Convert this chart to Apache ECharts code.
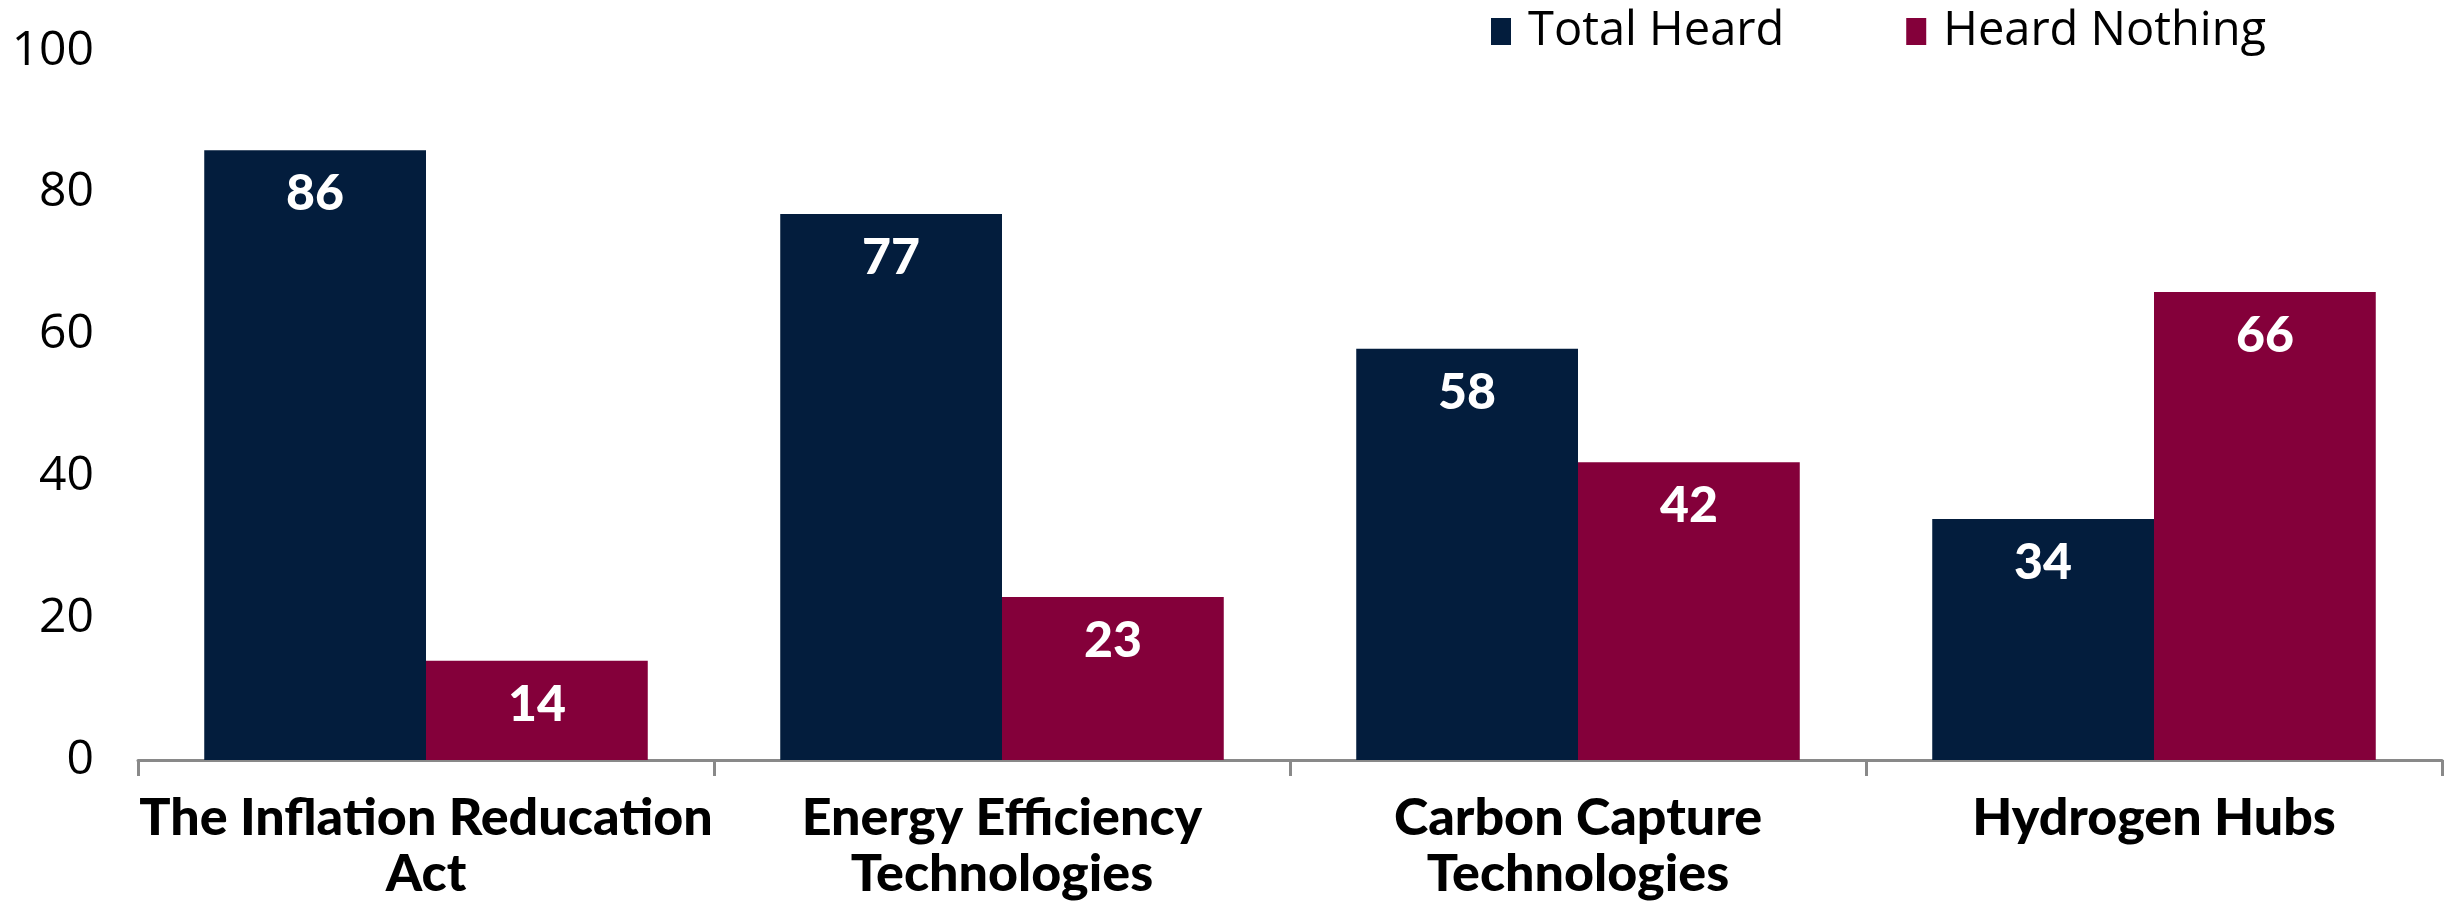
<!DOCTYPE html>
<html>
<head>
<meta charset="utf-8">
<script src="https://cdn.jsdelivr.net/npm/echarts@6/dist/echarts.min.js"></script>
<style>
html,body{margin:0;padding:0;background:#fff;}
#c{width:2458px;height:902px;}
</style>
</head>
<body>
<div id="c"></div>
<script>
const categories = ['The Inflation Reducation\nAct', 'Energy Efficiency\nTechnologies', 'Carbon Capture\nTechnologies', 'Hydrogen Hubs'];
const totalHeard = [86, 77, 58, 34];
const heardNothing = [14, 23, 42, 66];
const seriesNames = ['Total Heard', 'Heard Nothing'];

const chart = echarts.init(document.getElementById('c'), null, {renderer: 'canvas'});
const labelStyle = {
  show: true,
  position: 'insideTop',
  distance: 19,
  color: '#ffffff',
  fontFamily: 'Lato',
  fontWeight: 900,
  fontSize: 50
};
chart.setOption({
  animation: false,
  backgroundColor: '#ffffff',
  legend: {
    left: 1486,
    top: 3,
    itemWidth: 20,
    itemHeight: 27,
    itemGap: 122,
    icon: 'rect',
    textStyle: {fontFamily: 'Open Sans', fontSize: 47, color: '#000', padding: [0, 0, 0, 12]},
    data: seriesNames
  },
  grid: {left: 138, right: 16, top: 51, bottom: 142, containLabel: false},
  xAxis: {
    type: 'category',
    data: categories,
    axisLine: {show: true, lineStyle: {color: '#898989', width: 3}},
    axisTick: {show: true, length: 16, lineStyle: {color: '#898989', width: 3}},
    axisLabel: {
      interval: 0,
      margin: 30,
      color: '#000',
      fontFamily: 'Lato',
      fontWeight: 900,
      fontSize: 52,
      lineHeight: 56
    }
  },
  yAxis: {
    type: 'value',
    min: 0,
    max: 100,
    interval: 20,
    axisLine: {show: false},
    axisTick: {show: false},
    splitLine: {show: false},
    axisLabel: {margin: 44, color: '#000', fontFamily: 'Open Sans', fontSize: 48}
  },
  series: [
    {name: seriesNames[0], type: 'bar', data: totalHeard, barGap: '0%', barCategoryGap: '23%',
     itemStyle: {color: '#031D3D'}, label: labelStyle},
    {name: seriesNames[1], type: 'bar', data: heardNothing, barGap: '0%', barCategoryGap: '23%',
     itemStyle: {color: '#84003A'}, label: labelStyle}
  ]
});
</script>
</body>
</html>
